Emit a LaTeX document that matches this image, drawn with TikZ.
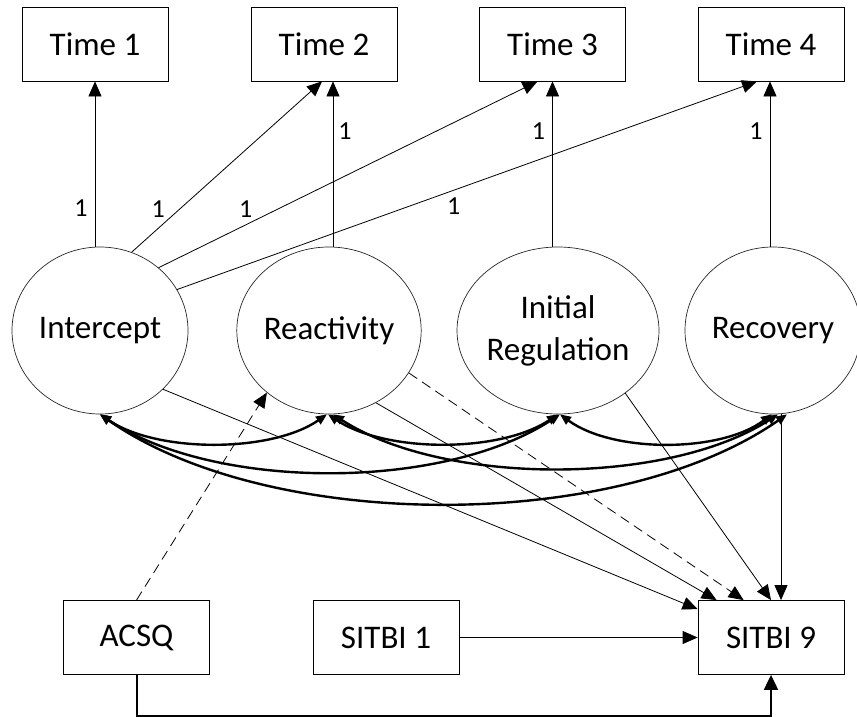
\documentclass[tikz,border=0pt]{standalone}
\usepackage{fontspec}
\setmainfont{Carlito}
\usetikzlibrary{arrows.meta,shapes.geometric}
\begin{document}
\begin{tikzpicture}[x=1pt,y=-1pt]
\tikzset{
  box/.style={draw, line width=0.8pt, minimum width=146pt, minimum height=74pt,
    inner sep=0pt, font=\fontsize{33}{40}\selectfont},
  latent/.style={draw=black!85, ellipse, line width=0.7pt, minimum width=176pt,
    minimum height=167pt, inner sep=0pt, align=center,
    font=\fontsize{33}{42}\selectfont},
  reg/.style={-{Triangle[length=15pt,width=13pt]}, line width=0.8pt},
  dreg/.style={reg, dash pattern=on 10pt off 6pt},
  cov/.style={{Triangle[length=11pt,width=9pt]}-{Triangle[length=11pt,width=9pt]},
    line width=2.4pt},
  lbl/.style={font=\fontsize{26}{30}\selectfont, inner sep=2pt}
}
\useasboundingbox (0,0) rectangle (857,717);

% observed repeated measures
\node[box] (Time1) at (95,44)    {Time 1};
\node[box] (Time2) at (324,44)   {Time 2};
\node[box] (Time3) at (552.5,44) {Time 3};
\node[box] (Time4) at (771,44)   {Time 4};

% latent growth factors
\node[latent] (Intercept)  at (100,330.5) {Intercept};
\node[latent] (Reactivity) at (329,330.5) {Reactivity};
\node[latent] (InitReg)    at (558,330.5) {Initial\\Regulation};
\node[latent] (Recovery)   at (773,330.5) {Recovery};

% covariates and outcome
\node[box] (ACSQ)   at (136.5,637.5) {ACSQ};
\node[box] (SITBI1) at (386,637.5)   {SITBI 1};
\node[box] (SITBI9) at (771,637.5)   {SITBI 9};

% fixed loadings
\draw[reg] (Intercept.north -| Time1.south) -- node[lbl,pos=0.235,left=5pt]{1} (Time1.south);
\draw[reg] (Intercept.68) -- node[lbl,pos=0.25,left=12pt]{1} ([xshift=-2pt]Time2.south);
\draw[reg] (Intercept.47) -- node[lbl,pos=0.23,above=5pt]{1} ([xshift=-15pt]Time3.south);
\draw[reg] (Intercept.28) -- node[lbl,pos=0.477,below=5pt]{1} ([xshift=-14pt]Time4.south);
\draw[reg] ([xshift=9pt]Time2.south |- Reactivity.north) -- node[lbl,pos=0.70,right=3pt]{1} ([xshift=9pt]Time2.south);
\draw[reg] (Time3.south |- InitReg.north) -- node[lbl,pos=0.70,left=5pt]{1} (Time3.south);
\draw[reg] ([xshift=-1pt]Time4.south |- Recovery.north) -- node[lbl,pos=0.70,left=5pt]{1} ([xshift=-1pt]Time4.south);

% factor covariances
\draw[cov] (Intercept.south) .. controls (157,453) and (271,453) .. ([xshift=-2pt]Reactivity.south);
\draw[cov] (Intercept.south) .. controls (215,491) and (443,491) .. ([xshift=2pt]InitReg.south);
\draw[cov] (Intercept.south) .. controls (270,533) and (617,533) .. ([xshift=14pt]Recovery.south);
\draw[cov] ([xshift=-1pt]Reactivity.south) .. controls (386,453) and (500,453) .. (InitReg.south);
\draw[cov] ([xshift=4pt]Reactivity.south) .. controls (444,486) and (667,486) .. ([xshift=5pt]Recovery.south);
\draw[cov] ([xshift=2pt]InitReg.south) .. controls (613,453) and (720,453) .. ([xshift=-1pt]Recovery.south);

% predictors of SITBI 9
\draw[reg] (Intercept.-43) -- ([yshift=-9pt]SITBI9.north west);
\draw[reg] (Reactivity.-57) -- ([xshift=19pt]SITBI9.north west);
\draw[dreg] (Reactivity.-28) -- ([xshift=46pt]SITBI9.north west);
\draw[reg] (InitReg.-43) -- (SITBI9.north);
\draw[reg] ([xshift=10pt]SITBI9.north |- Recovery.south) -- ([xshift=10pt]SITBI9.north);
\draw[reg] (SITBI1.east) -- (SITBI9.west);
\draw[reg, line width=2pt, -{Triangle[length=15pt,width=14pt]}] (ACSQ.south) -- ++(0,41) -| (SITBI9.south);

% ACSQ predicting reactivity
\draw[dreg] (ACSQ.north) -- (Reactivity.-135);
\end{tikzpicture}
\end{document}
